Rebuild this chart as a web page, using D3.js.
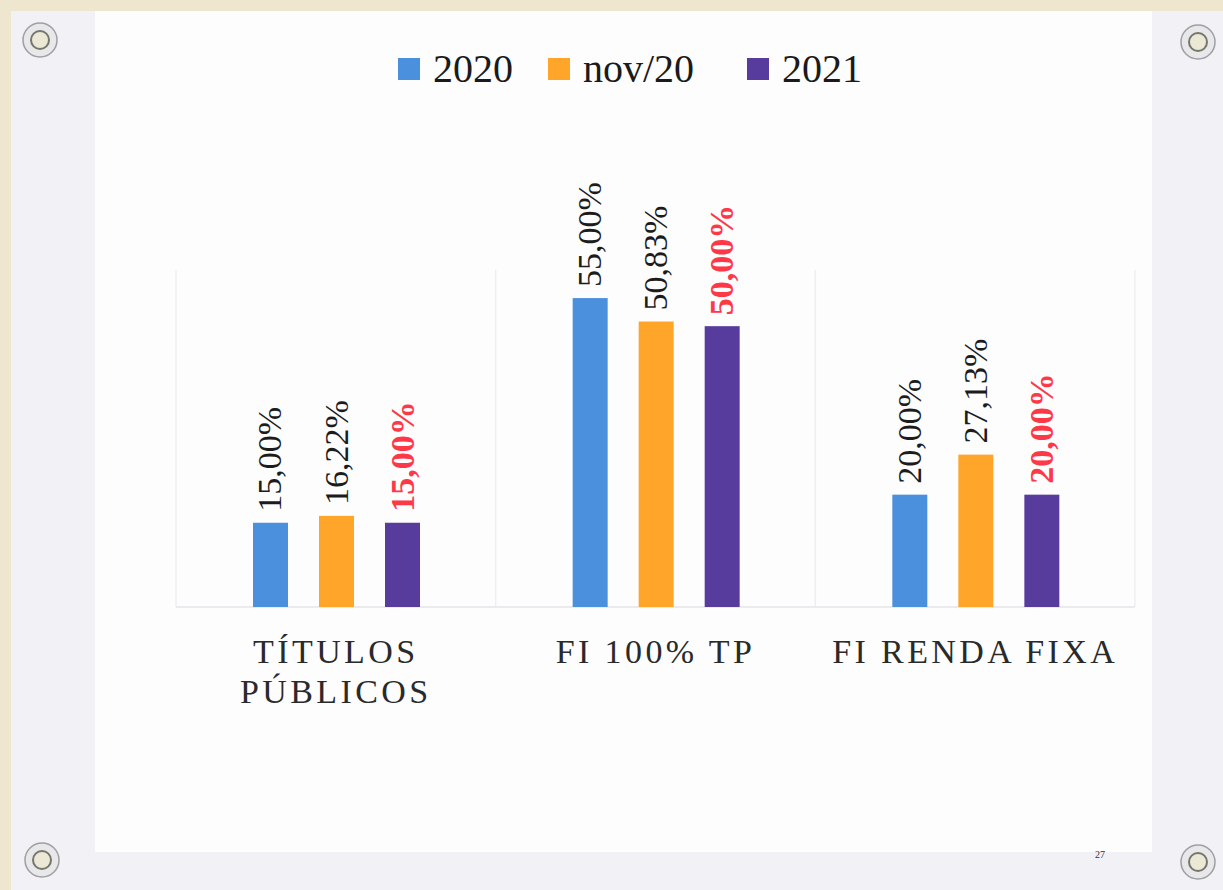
<!DOCTYPE html>
<html>
<head>
<meta charset="utf-8">
<script src="https://cdn.jsdelivr.net/npm/d3@7"></script>
<style>
  html, body { margin: 0; padding: 0; background: #efe6cf; }
  svg { display: block; }
</style>
</head>
<body>
<div id="chart"></div>
<script>
// dados
var categories = [["TÍTULOS", "PÚBLICOS"], ["FI 100% TP"], ["FI RENDA FIXA"]];
var categoryKeys = ["TP", "FI100", "FIRF"];
var series = ["2020", "nov/20", "2021"];
var values2020 = [15.00, 55.00, 20.00];
var valuesNov20 = [16.22, 50.83, 27.13];
var values2021 = [15.00, 50.00, 20.00];
var seriesValues = [values2020, valuesNov20, values2021];
var seriesColors = ["#4a90dc", "#ffa52a", "#573c9e"];

var SERIF = "'Liberation Serif', 'Times New Roman', serif";
var W = 1223, H = 890;
var svg = d3.select("#chart").append("svg")
    .attr("width", W)
    .attr("height", H);

// papel fotografado
svg.append("rect").attr("x", 11).attr("y", 11).attr("width", W - 11).attr("height", H - 11)
    .attr("fill", "#f2f2f6");
svg.append("rect").attr("x", 95).attr("y", 11).attr("width", 1057).attr("height", 841)
    .attr("fill", "#fdfdfe");

// parafusos
var screws = [[40, 40], [1198, 42], [42, 860], [1198, 862]];
svg.append("g").selectAll("g")
    .data(screws)
    .enter()
    .append("g")
    .attr("transform", d => `translate(${d[0]},${d[1]})`)
    .each(function () {
        var g = d3.select(this);
        g.append("circle").attr("r", 17).attr("fill", "#e8e8ea").attr("stroke", "#a0a0a4").attr("stroke-width", 1.5);
        g.append("circle").attr("r", 9).attr("fill", "#ece8d6").attr("stroke", "#76766c").attr("stroke-width", 2);
    });

var margin = { top: 270, left: 176, right: 1135, bottom: 607 };
var xScale = d3.scaleBand().domain(categoryKeys).range([margin.left, margin.right]);
var xInner = d3.scaleBand().domain(series).range([77, 244]).paddingInner(0.47);
var yScale = d3.scaleLinear().domain([0, 60]).range([margin.bottom, margin.top]);

// linhas de grade verticais
var grid = svg.append("g");
var bounds = categoryKeys.map(k => xScale(k)).concat([margin.right]);
grid.selectAll("line")
    .data(bounds)
    .enter()
    .append("line")
    .attr("x1", d => d).attr("x2", d => d)
    .attr("y1", yScale(60)).attr("y2", yScale(0))
    .attr("stroke", "#efeff2")
    .attr("stroke-width", 1.5);

grid.append("line")
    .attr("x1", margin.left).attr("x2", margin.right)
    .attr("y1", yScale(0)).attr("y2", yScale(0))
    .attr("stroke", "#e4e4ea")
    .attr("stroke-width", 1.5);

// barras
var groups = svg.append("g").selectAll("g")
    .data(series)
    .enter()
    .append("g")
    .attr("fill", (d, i) => seriesColors[i]);

function rows(s, si) {
    return seriesValues[si].map((v, ci) => ({ s: s, si: si, c: categoryKeys[ci], v: v }));
}

groups.selectAll("rect")
    .data(rows)
    .enter()
    .append("rect")
    .attr("x", d => xScale(d.c) + xInner(d.s))
    .attr("y", d => yScale(d.v))
    .attr("width", xInner.bandwidth())
    .attr("height", d => yScale(0) - yScale(d.v));

// rótulos de valor
function fmt(v) { return v.toFixed(2).replace(".", ",") + "%"; }

groups.selectAll("text")
    .data(rows)
    .enter()
    .append("text")
    .attr("transform", d => {
        var cx = xScale(d.c) + xInner(d.s) + xInner.bandwidth() / 2 + 11;
        var cy = yScale(d.v) - 11;
        return `translate(${cx},${cy}) rotate(-90)`;
    })
    .style("font-family", SERIF)
    .style("font-size", "34px")
    .style("font-weight", d => d.si == 2 ? "bold" : "normal")
    .attr("fill", d => d.si == 2 ? "#ff3848" : "#1c1c1c")
    .text(d => fmt(d.v));

// rótulos das categorias
var catLabels = svg.append("g").selectAll("text")
    .data(categories)
    .enter()
    .append("text")
    .attr("x", (d, i) => xScale(categoryKeys[i]) + xScale.bandwidth() / 2)
    .attr("y", 663)
    .attr("text-anchor", "middle")
    .style("font-family", SERIF)
    .style("font-size", "34px")
    .style("letter-spacing", "3.4px")
    .attr("fill", "#2a2a2a");

catLabels.selectAll("tspan")
    .data(d => d)
    .enter()
    .append("tspan")
    .attr("x", function () { return d3.select(this.parentNode).attr("x"); })
    .attr("dy", (d, i) => i == 0 ? 0 : 40)
    .text(d => d);

// legenda
var legendX = [398, 548, 747];
var legend = svg.append("g").selectAll("g")
    .data(series)
    .enter()
    .append("g")
    .attr("transform", (d, i) => `translate(${legendX[i]},58)`);

legend.append("rect")
    .attr("width", 22).attr("height", 22)
    .attr("fill", (d, i) => seriesColors[i]);

legend.append("text")
    .attr("x", 35)
    .attr("y", 24)
    .style("font-family", SERIF)
    .style("font-size", "40px")
    .attr("fill", "#1a1a1a")
    .text(d => d);

// número da página
svg.append("text")
    .attr("x", 1100).attr("y", 858)
    .attr("text-anchor", "middle")
    .style("font-family", SERIF)
    .style("font-size", "10px")
    .attr("fill", "#333")
    .text("27");
</script>
</body>
</html>
